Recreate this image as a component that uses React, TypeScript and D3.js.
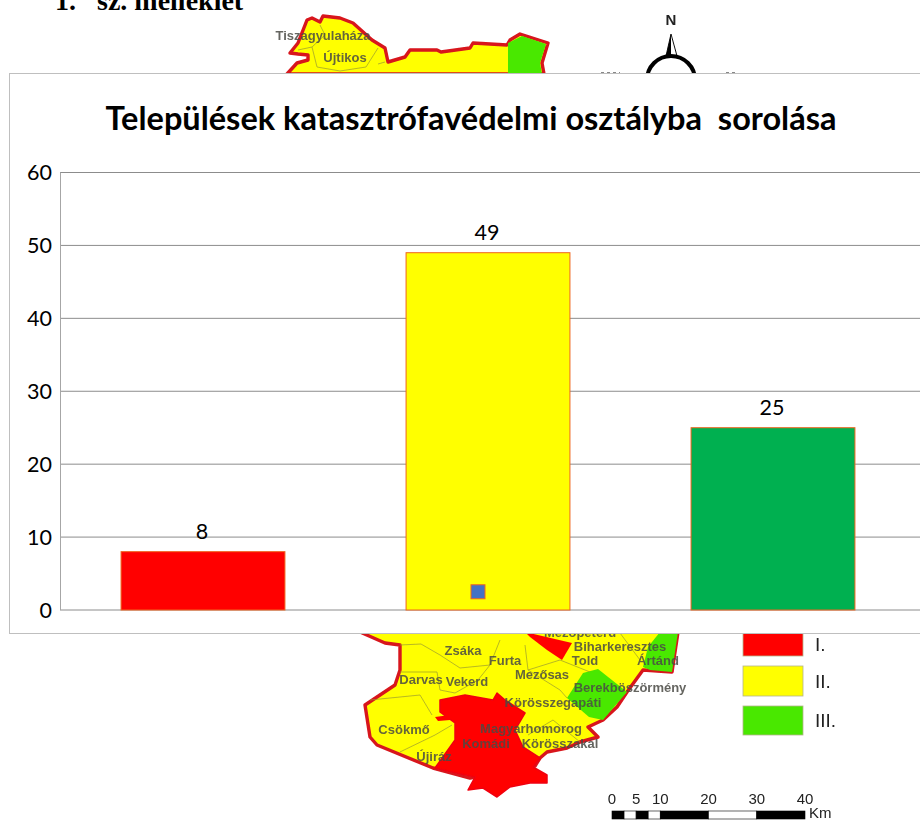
import React from "react";
import * as d3 from "d3";

const categories = ["I.", "II.", "III."];
const values = [8, 49, 25];
const barColors = ["#FF0000", "#FFFF00", "#00B050"];
const yTicks = [0, 10, 20, 30, 40, 50, 60];
const chartTitle = "Települések katasztrófavédelmi osztályba  sorolása";
const markerValue = 2.5;

const legendLabels = ["I.", "II.", "III."];
const legendColors = ["#FF0000", "#FFFF00", "#48E800"];
const scaleTicks = [0, 5, 10, 20, 30, 40];

type P = [number, number];
const mapNorth: P[] = [[287,74],[297,63],[308,60],[308,55],[298,54],[290,53],[298,43],[307,20],[312,18],[320,22],[323,16],[340,18],[353,23],[372,40],[385,48],[388,62],[405,57],[410,50],[437,50],[441,52],[470,48],[473,43],[507,45],[510,40],[520,34],[548,43],[542,63],[544,74]];
const greenNorth: P[] = [[508,43],[522,36],[546,44],[540,63],[542,74],[508,74]];
const mapSouth: P[] = [[360,632],[385,643],[400,645],[400,670],[395,685],[365,705],[370,737],[377,745],[433,768],[470,778],[535,766],[540,758],[547,752],[567,748],[580,742],[598,737],[588,727],[603,720],[617,707],[627,692],[643,670],[672,672],[678,632]];
const redSouth: P[] = [[440,700],[465,695],[493,700],[497,693],[505,700],[525,713],[515,730],[523,747],[540,758],[533,767],[547,775],[547,783],[530,783],[510,787],[497,797],[483,788],[468,790],[475,777],[435,768],[455,740],[455,723],[440,712]];
const redInlet: P[] = [[435,717],[450,715],[450,720],[438,721]];
const redNorth: P[] = [[525,632],[572,643],[562,660],[547,650],[530,637]];
const greenArtand: P[] = [[660,632],[678,632],[672,672],[650,670],[643,667],[648,647]];
const greenBerek: P[] = [[583,673],[598,669],[627,692],[603,720],[589,717],[567,698]];
const districtLines: P[][] = [
  [[320,25],[325,35],[312,47],[298,50]],
  [[312,47],[317,67],[340,71],[366,67],[378,48]],
  [[378,64],[385,62]],
  [[400,645],[421,644],[440,655],[460,668],[490,665],[500,640]],
  [[400,672],[437,672],[440,690],[455,693],[478,680],[490,665]],
  [[525,645],[528,670],[560,690],[567,698]],
  [[528,670],[560,660],[590,672]],
  [[370,700],[420,695],[432,715]],
  [[528,735],[553,720],[580,742]],
  [[400,752],[435,735],[452,725]],
  [[620,633],[640,660]],
];
const mapLabels: [string, number, number][] = [
  ["Tiszagyulaháza", 323, 35],["Újtikos", 345, 57],["Mezőpeterd", 580, 632],["Zsáka", 463, 650],["Furta", 505, 660],
  ["Biharkeresztes", 620, 646],["Told", 585, 660],["Ártánd", 658, 660],["Mezősas", 542, 674],["Darvas", 421, 679],
  ["Vekerd", 467, 681],["Berekböszörmény", 630, 687],["Körösszegapáti", 553, 702],["Magyarhomorog", 531, 728],
  ["Komádi", 486, 743],["Körösszakál", 560, 743],["Csökmő", 404, 729],["Újiráz", 434, 756],
];

const x = d3.scaleBand<string>().domain(categories).range([60.5, 915.5]).paddingInner(0.425).paddingOuter(0.2125);
const y = d3.scaleLinear().domain([0, 60]).range([610, 172.5]);
const scaleX = d3.scaleLinear().domain([0, 40]).range([612, 805]);
const poly = d3.line<P>();
const closed = (p: P[]) => poly(p) + "Z";

export default function App() {
  const chartFont = "Lato, Carlito, sans-serif";
  const mapFont = "'Liberation Sans', Arial, sans-serif";
  const serif = "'Liberation Serif', serif";
  return (
    <svg width={920} height={820} style={{ position: "absolute", left: 0, top: 0, display: "block" }}>
      <rect width={920} height={820} fill="#fff" />
      <text x={55} y={10} fontFamily={serif} fontWeight="bold" fontSize={28} fill="#000">1.</text>
      <text x={97} y={10} fontFamily={serif} fontWeight="bold" fontSize={28} fill="#000">sz. melléklet</text>
      <defs>
        <filter id="soft" x="-5%" y="-5%" width="110%" height="110%"><feGaussianBlur stdDeviation="0.5" /></filter>
      </defs>
      <g filter="url(#soft)">
        {[mapNorth, mapSouth].map((p, i) => (
          <path key={i} d={closed(p)} fill="#FFFF00" stroke="#D8141C" strokeWidth={3.4} strokeLinejoin="round" />
        ))}
        <path d={closed(greenNorth)} fill="#48E800" />
        <path d={closed(greenArtand)} fill="#48E800" />
        <path d={closed(greenBerek)} fill="#48E800" />
        <path d={closed(redNorth)} fill="#FF0000" />
        <path d={closed(redSouth)} fill="#FF0000" stroke="#F00010" strokeWidth={1.5} strokeLinejoin="round" />
        <path d={closed(redInlet)} fill="#FF0000" />
        {districtLines.map((p, i) => (
          <path key={i} d={poly(p) ?? ""} fill="none" stroke="#9a9a30" strokeWidth={0.7} />
        ))}
        {mapLabels.map(([t, lx, ly]) => (
          <text key={t} x={lx} y={ly} dy="0.35em" textAnchor="middle" fontFamily={mapFont} fontWeight="bold" fontSize={13} fill="#4a4a44" fillOpacity={0.85}>{t}</text>
        ))}
        <text x={671} y={25} textAnchor="middle" fontFamily={mapFont} fontWeight="bold" fontSize={15} fill="#222">N</text>
        <path d="M671,34L666,56L677,56Z" fill="#fff" stroke="#111" strokeWidth={1} />
        <path d="M671,34L666,56L671,56Z" fill="#000" />
        <circle cx={671} cy={80} r={24} fill="none" stroke="#000" strokeWidth={4} />
        <path d="M601,72.5H620M726,72.5H736" stroke="#888" strokeWidth={1} strokeDasharray="3 3" />
        {legendLabels.map((t, i) => {
          const top = [630, 666, 706][i];
          const h = [26, 30, 29][i];
          return (
            <g key={t}>
              <rect x={743} y={top} width={60} height={h} fill={legendColors[i]} stroke="#b5b58a" strokeWidth={0.8} />
              <text x={815} y={top + h / 2 + (i === 0 ? 1 : 0)} dy="0.36em" fontFamily={mapFont} fontSize={19} fill="#222">{t}</text>
            </g>
          );
        })}
        {scaleTicks.map((t) => (
          <text key={t} x={scaleX(t)} y={804} textAnchor="middle" fontFamily={mapFont} fontSize={15} fill="#222">{t}</text>
        ))}
        {[[0, 2.5, 1], [2.5, 5, 0], [5, 7.5, 1], [7.5, 10, 0], [10, 20, 1], [20, 30, 0], [30, 40, 1]].map(([a, b, k], i) => (
          <rect key={i} x={scaleX(a)} y={811} width={scaleX(b) - scaleX(a)} height={8} fill={k ? "#000" : "#fff"} stroke="#000" strokeWidth={0.6} />
        ))}
        <text x={809} y={818} fontFamily={mapFont} fontSize={15} fill="#222">Km</text>
      </g>

      <rect x={9.5} y={73.5} width={930} height={560} fill="#fff" stroke="#bfbfbf" strokeWidth={1} />
      <text x={471} y={130} textAnchor="middle" fontFamily={chartFont} fontWeight="bold" fontSize={32.5} fill="#000" style={{ whiteSpace: "pre" }}>{chartTitle}</text>
      {yTicks.map((t) => (
        <g key={t}>
          <line x1={60} x2={920} y1={y(t)} y2={y(t)} stroke="#8c8c8c" strokeWidth={1} />
          <text x={52} y={y(t)} dy="0.35em" textAnchor="end" fontFamily={chartFont} fontSize={21.5} fill="#000">{t}</text>
        </g>
      ))}
      <line x1={60.5} x2={60.5} y1={y(60)} y2={y(0)} stroke="#a6a6a6" strokeWidth={1} />
      {categories.map((c, i) => (
        <g key={c}>
          <rect x={x(c)} y={y(values[i])} width={x.bandwidth()} height={y(0) - y(values[i])} fill={barColors[i]} stroke="#F0641E" strokeWidth={1} />
          <text x={(x(c) ?? 0) + x.bandwidth() / 2 - 1} y={y(values[i]) - 13} textAnchor="middle" fontFamily={chartFont} fontSize={21.5} fill="#000">{values[i]}</text>
        </g>
      ))}
      <rect x={(x("II.") ?? 0) + x.bandwidth() / 2 - 17} y={y(markerValue) - 7} width={14} height={14} fill="#4472C4" stroke="#F0641E" strokeWidth={1} />
    </svg>
  );
}
